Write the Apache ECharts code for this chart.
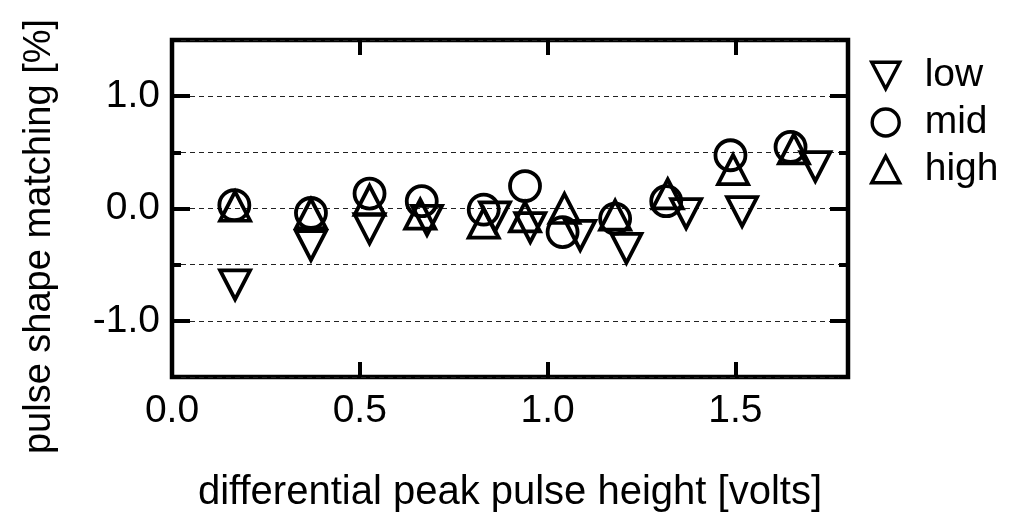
<!DOCTYPE html>
<html>
<head>
<meta charset="utf-8">
<style>
  html, body { margin: 0; padding: 0; background: #fff; }
  #chart { width: 1015px; height: 513px; }
</style>
<script src="https://cdn.jsdelivr.net/npm/echarts@6/dist/echarts.min.js"></script>
</head>
<body>
<div id="chart"></div>
<script>
// Pulse shape matching versus differential peak pulse height, three gain settings.
const seriesNames = ['low', 'mid', 'high'];

// [differential peak pulse height (V), pulse shape matching (%)]
const lowPoints = [
  [0.168, -0.68], [0.370, -0.33], [0.526, -0.18], [0.679, -0.105],
  [0.860, -0.075], [0.954, -0.17], [1.087, -0.24], [1.210, -0.355],
  [1.369, -0.046], [1.518, -0.028], [1.713, 0.373]
];
const midPoints = [
  [0.166, 0.03], [0.370, -0.04], [0.526, 0.133], [0.665, 0.065],
  [0.830, -0.01], [0.940, 0.20], [1.040, -0.21], [1.180, -0.09],
  [1.316, 0.065], [1.487, 0.474], [1.647, 0.548]
];
const highPoints = [
  [0.168, 0.02], [0.370, -0.045], [0.526, 0.073], [0.661, -0.05],
  [0.830, -0.13], [0.940, -0.075], [1.045, 0.0], [1.180, -0.06],
  [1.320, 0.13], [1.494, 0.347], [1.656, 0.53]
];

const xTickValues = [0.0, 0.5, 1.0, 1.5];
const yTickValues = [-1.0, 0.0, 1.0];

const FONT = 'Liberation Sans, Arial, sans-serif';
const downTriangle = 'path://M0,0 L20,0 L10,19 Z';
const upTriangle = 'path://M10,0 L20,19 L0,19 Z';

const hollow = { color: 'rgba(0,0,0,0)', borderColor: '#000', borderWidth: 3.8, opacity: 1 };

const chart = echarts.init(document.getElementById('chart'), null, { renderer: 'canvas' });

const onTick = (list) => (v) => list.some(t => Math.abs(t - v) < 1e-6) ? v.toFixed(1) : '';

const tickStyle = { color: '#000', width: 4 };

chart.setOption({
  animation: false,
  backgroundColor: '#fff',
  grid: [
    // plotting area
    {
      left: 172, right: 167, top: 40, bottom: 136, outerBoundsMode: 'none', containLabel: false,
      show: true, borderColor: '#000', borderWidth: 4.5, backgroundColor: 'transparent'
    },
    // band spanning -1..1, carries the long integer ticks and their labels
    { left: 172, right: 167, top: 96, height: 225, outerBoundsMode: 'none', containLabel: false, show: false }
  ],
  legend: {
    orient: 'vertical',
    left: 870,
    top: 56,
    itemWidth: 28,
    itemHeight: 27,
    itemGap: 8,
    padding: 0,
    itemStyle: { color: 'rgba(0,0,0,0)', borderColor: '#000', borderWidth: 3.4, opacity: 1 },
    textStyle: { fontFamily: FONT, fontSize: 39, color: '#000', padding: [0, 0, 0, 20] },
    data: seriesNames
  },
  xAxis: [
    {
      gridIndex: 0, type: 'value', min: 0, max: 1.8, interval: 0.5, position: 'bottom',
      name: 'differential peak pulse height [volts]', nameLocation: 'middle', nameGap: 96,
      nameTextStyle: { fontFamily: FONT, fontSize: 40, color: '#000' },
      axisLine: { show: false, onZero: false },
      axisTick: { show: true, inside: true, length: 15, lineStyle: tickStyle },
      axisLabel: { fontFamily: FONT, fontSize: 39, color: '#000', margin: 15, formatter: onTick(xTickValues), showMaxLabel: false },
      splitLine: { show: false }
    },
    {
      gridIndex: 0, type: 'value', min: 0, max: 1.8, interval: 0.5, position: 'top',
      axisLine: { show: false, onZero: false },
      axisTick: { show: true, inside: true, length: 15, lineStyle: tickStyle },
      axisLabel: { show: false },
      splitLine: { show: false }
    },
    {
      gridIndex: 1, type: 'value', min: 0, max: 1.8, show: false, axisLine: { onZero: false }
    }
  ],
  yAxis: [
    {
      gridIndex: 0, type: 'value', min: -1.5, max: 1.5, interval: 0.5, position: 'left',
      name: 'pulse shape matching [%]', nameLocation: 'middle', nameGap: 113, nameRotate: 90,
      nameTextStyle: { fontFamily: FONT, fontSize: 38, color: '#000', padding: [0, 56, 0, 0] },
      axisLine: { show: false, onZero: false },
      axisTick: { show: true, inside: true, length: 9, lineStyle: tickStyle },
      axisLabel: { show: false },
      splitLine: { show: true, lineStyle: { color: '#222', width: 1, type: [5, 4] } }
    },
    {
      gridIndex: 0, type: 'value', min: -1.5, max: 1.5, interval: 0.5, position: 'right',
      axisLine: { show: false, onZero: false },
      axisTick: { show: true, inside: true, length: 9, lineStyle: tickStyle },
      axisLabel: { show: false },
      splitLine: { show: false }
    },
    {
      gridIndex: 1, type: 'value', min: -1, max: 1, interval: 1, position: 'left',
      axisLine: { show: false, onZero: false },
      axisTick: { show: true, inside: true, length: 18, lineStyle: tickStyle },
      axisLabel: { fontFamily: FONT, fontSize: 39, color: '#000', margin: 12, formatter: onTick(yTickValues) },
      splitLine: { show: false }
    },
    {
      gridIndex: 1, type: 'value', min: -1, max: 1, interval: 1, position: 'right',
      axisLine: { show: false, onZero: false },
      axisTick: { show: true, inside: true, length: 18, lineStyle: tickStyle },
      axisLabel: { show: false },
      splitLine: { show: false }
    }
  ],
  series: [
    {
      name: 'low', type: 'scatter', xAxisIndex: 0, yAxisIndex: 0,
      symbol: downTriangle, symbolSize: [30, 29], itemStyle: hollow, data: lowPoints, z: 3
    },
    {
      name: 'mid', type: 'scatter', xAxisIndex: 0, yAxisIndex: 0,
      symbol: 'circle', symbolSize: 30, itemStyle: hollow, data: midPoints, z: 3
    },
    {
      name: 'high', type: 'scatter', xAxisIndex: 0, yAxisIndex: 0,
      symbol: upTriangle, symbolSize: [30, 29], itemStyle: hollow, data: highPoints, z: 3
    }
  ]
});
</script>
</body>
</html>
